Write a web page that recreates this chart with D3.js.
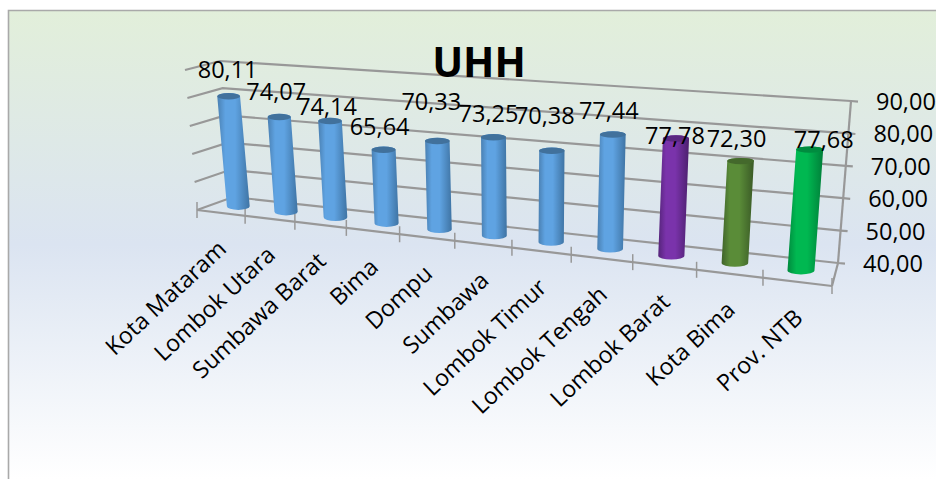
<!DOCTYPE html>
<html>
<head>
<meta charset="utf-8">
<script src="https://cdn.jsdelivr.net/npm/d3@7"></script>
<style>
html,body{margin:0;padding:0;background:#fff;}
svg{display:block;}
text{font-family:"Open Sans",sans-serif;fill:#000;}
</style>
</head>
<body>
<svg id="chart" width="936" height="479"></svg>
<script>
// Life expectancy (UHH) by district, West Nusa Tenggara
const categories = ["Kota Mataram","Lombok Utara","Sumbawa Barat","Bima","Dompu","Sumbawa","Lombok Timur","Lombok Tengah","Lombok Barat","Kota Bima","Prov. NTB"];
const values = [80.11,74.07,74.14,65.64,70.33,73.25,70.38,77.44,77.78,72.30,77.68];
const yTicks = [40,50,60,70,80,90];
const palette = ["blue","blue","blue","blue","blue","blue","blue","blue","purple","olive","green"];

// Hand-placed label nudges, relative to each cylinder's top
const labelNudgeX = [-1,-3,-3,-4,-6,-5,-7,-4,-1,-4,14];
const labelNudgeY = [-18,-17,-6,-15,-31,-15,-27,-16,5,-14,-2];

const ramps = {
  blue:   {edgeL:"#4a80b2", mid:"#5fa3e2", edgeR:"#3f74a4", cap:"#41719c"},
  purple: {edgeL:"#55247a", mid:"#7a33ab", edgeR:"#4c206e", cap:"#5a2780"},
  olive:  {edgeL:"#40632a", mid:"#5a8c38", edgeR:"#3a5a26", cap:"#44692c"},
  green:  {edgeL:"#008a3e", mid:"#00b851", edgeR:"#007f39", cap:"#008c3f"}
};

const svg = d3.select("#chart");
const defs = svg.append("defs");

const fmt = v => d3.format(".2f")(v).replace(".", ",");

// Card background
const bg = defs.append("linearGradient").attr("id","cardFill")
  .attr("x1",0).attr("y1",0).attr("x2",0).attr("y2",1);
[[0,"#e2efda"],[0.5,"#dbe4f1"],[1,"#ffffff"]].forEach(s =>
  bg.append("stop").attr("offset",s[0]).attr("stop-color",s[1]));
svg.append("rect").attr("x",8).attr("y",10).attr("width",928).attr("height",469).attr("fill","url(#cardFill)");
svg.append("path").attr("d","M8.5,479V10.5H936").attr("fill","none").attr("stroke","#a9a9a9").attr("stroke-width",1.6);

// Cylinder shading
Object.entries(ramps).forEach(([name,r]) => {
  const g = defs.append("linearGradient").attr("id","cyl-"+name)
    .attr("x1",0).attr("y1",0).attr("x2",1).attr("y2",0);
  [[0,r.edgeL],[0.25,r.mid],[0.55,r.mid],[1,r.edgeR]].forEach(s =>
    g.append("stop").attr("offset",s[0]).attr("stop-color",s[1]));
});

// Chart box, as seen in perspective
const box = {
  frontL:[197,210], frontR:[832,286],
  backL:[233,197],  backR:[838,263],
  topL:[220,61],    topR:[851,101],
  sideL:[185,70]
};
const lerp = (a,b,t) => [a[0]+(b[0]-a[0])*t, a[1]+(b[1]-a[1])*t];

// Horizontal foreshortening along the category axis
const g0 = -0.18;
const warp = u => u*(1+g0)/(1+g0*u);

const band = d3.scaleBand().domain(categories).range([0,1]);
const z = d3.scaleLinear().domain([40,90]).range([0,1]);
const radius = d3.scaleLinear().domain([0,1]).range([11.3,13.6]);

const front = t => lerp(box.frontL, box.frontR, t);
const back  = t => lerp(box.backL,  box.backR,  t);
const wall  = (t,h) => lerp(back(t), lerp(box.topL, box.topR, t), h);
const sideFront = h => lerp(box.frontL, box.sideL, h);
const sideBack  = h => lerp(box.backL,  box.topL,  h);

const gridColor = "#989898";
const grid = svg.append("g").attr("fill","none").attr("stroke",gridColor).attr("stroke-width",2.2);
const line = d3.line();

// Floor outline
grid.append("path").attr("d",line([box.frontL,box.frontR]));
grid.append("path").attr("d",line([box.frontR,box.backR]));

// Value gridlines over side wall and back wall, with their outer ticks
yTicks.forEach(v => {
  const h = z(v);
  const a = wall(1,h);
  grid.append("path").attr("d",line([sideFront(h),sideBack(h),wall(0,h),a,[a[0]+7,a[1]+0.6]]));
});
grid.append("path").attr("d",line([box.backR,box.topR]));

// Category ticks across the front edge
d3.range(categories.length+1).forEach(i => {
  const p = front(warp(i/categories.length));
  grid.append("path").attr("d",line([[p[0],p[1]-8],[p[0],p[1]+8]])).attr("stroke-width",1.5);
});

// Cylinders
const geom = categories.map((c,i) => {
  const u = band(c)+band.bandwidth()/2;
  const t = warp(u);
  const base = lerp(front(t), back(t), 0.5);
  const h = z(values[i]);
  const w0 = wall(t,0), w1 = wall(t,h);
  const top = [base[0]+w1[0]-w0[0], base[1]+w1[1]-w0[1]];
  return {c, i, u, t, base, top, r:radius(u), ramp:palette[i]};
});

const bars = svg.append("g").selectAll("g").data(geom).join("g");
bars.append("path")
  .attr("d", d => {
    const ry = 3.2;
    return `M${d.top[0]-d.r},${d.top[1]}L${d.base[0]-d.r},${d.base[1]}`+
      `A${d.r},${ry+0.6} 0 0 0 ${d.base[0]+d.r},${d.base[1]}`+
      `L${d.top[0]+d.r},${d.top[1]}A${d.r},${ry} 0 0 0 ${d.top[0]-d.r},${d.top[1]}Z`;
  })
  .attr("fill", d => `url(#cyl-${d.ramp})`);
bars.append("ellipse")
  .attr("cx", d => d.top[0]).attr("cy", d => d.top[1])
  .attr("rx", d => d.r).attr("ry", 3.2)
  .attr("fill", d => ramps[d.ramp].cap);

// Value labels
svg.append("g").selectAll("text").data(geom).join("text")
  .attr("x", d => d.top[0]+labelNudgeX[d.i])
  .attr("y", d => d.top[1]+labelNudgeY[d.i])
  .attr("text-anchor","middle").attr("font-size",23.5)
  .text(d => fmt(values[d.i]));

// Value axis labels
svg.append("g").selectAll("text").data(yTicks).join("text")
  .attr("x", v => wall(1,z(v))[0]+25)
  .attr("y", v => wall(1,z(v))[1]+9)
  .attr("font-size",23.5)
  .text(fmt);

// Category labels
svg.append("g").selectAll("text").data(geom).join("text")
  .attr("transform", d => {
    const p = front(d.t);
    return `translate(${p[0]+7},${p[1]+38}) rotate(-43)`;
  })
  .attr("text-anchor","end").attr("font-size",23.3)
  .text(d => d.c);

// Title
svg.append("text").attr("x",479).attr("y",77).attr("text-anchor","middle")
  .attr("font-size",41).attr("font-weight",700).text("UHH");
</script>
</body>
</html>
